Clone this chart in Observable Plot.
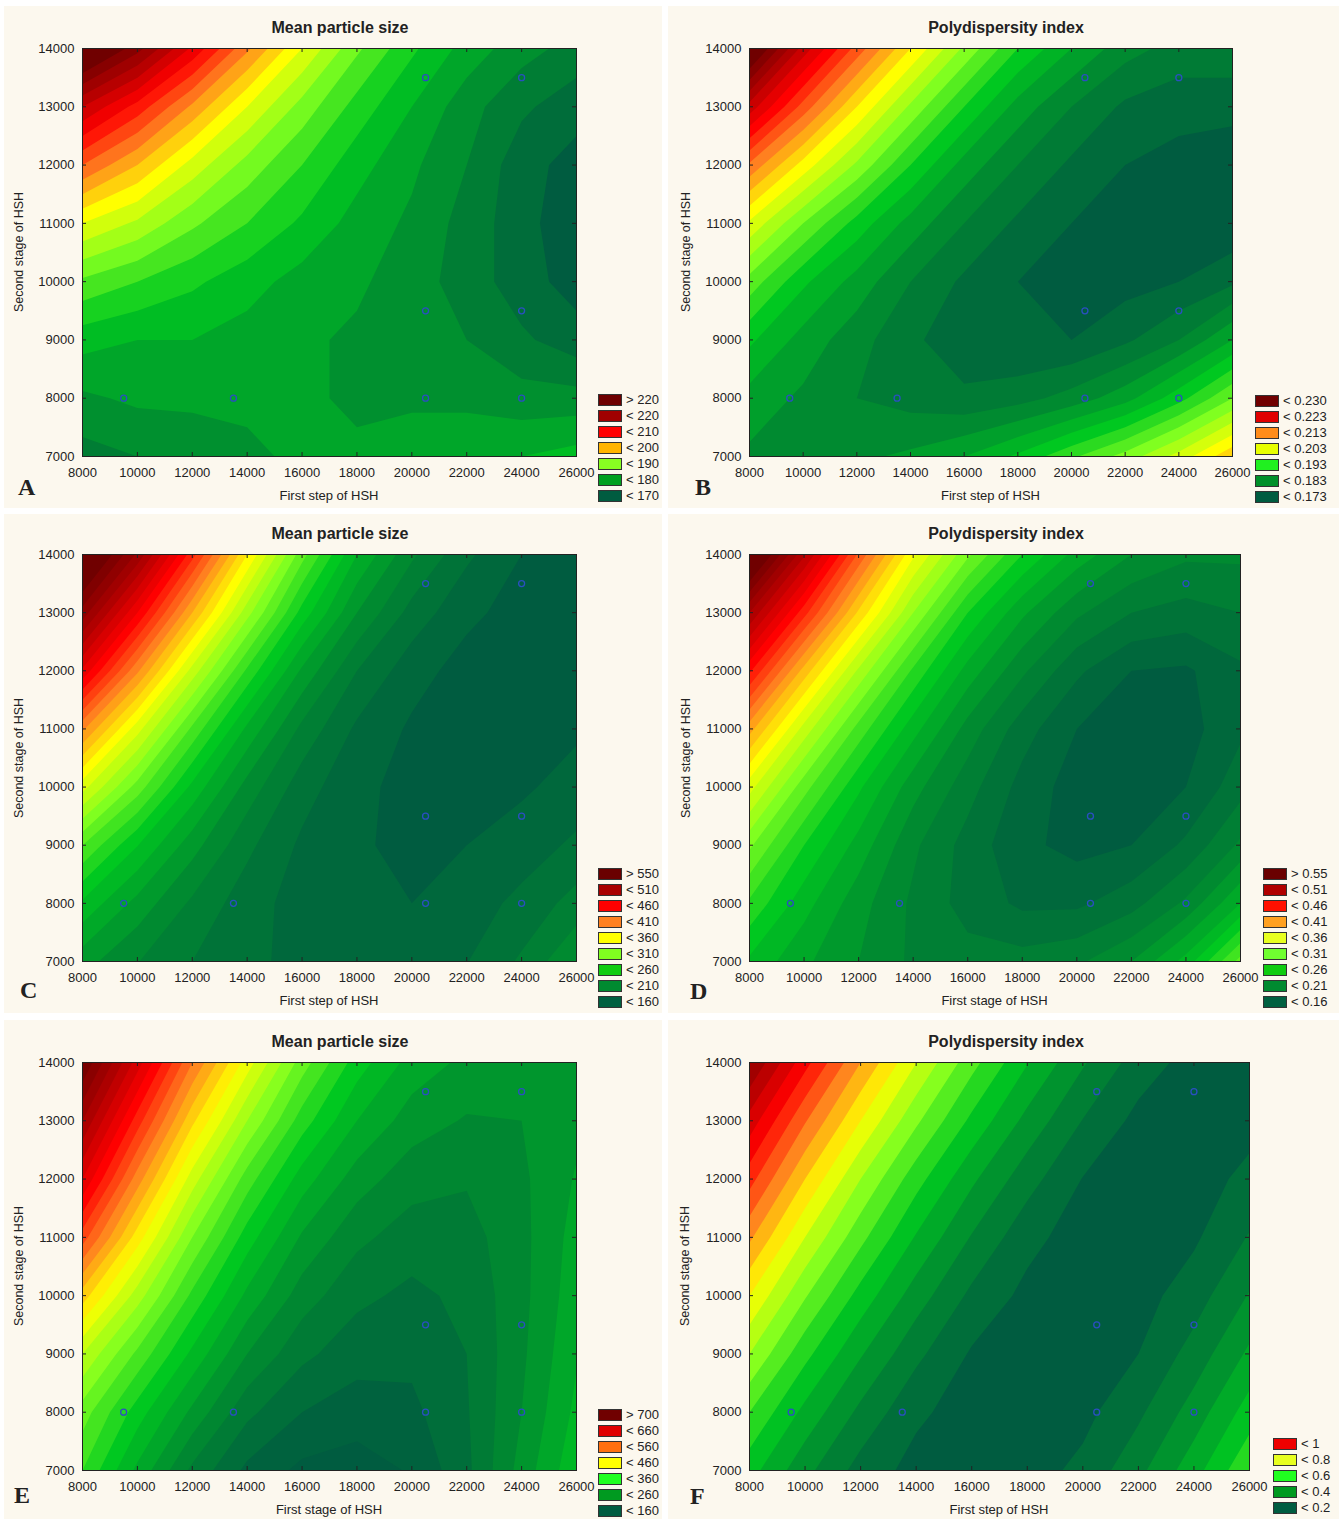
<!DOCTYPE html>
<html><head><meta charset="utf-8">
<script src="https://cdn.jsdelivr.net/npm/d3@7"></script>
<script src="https://cdn.jsdelivr.net/npm/@observablehq/plot@0.6"></script>
<style>
body{margin:0;background:#fff;}
#root{position:relative;width:1343px;height:1519px;overflow:hidden;font-family:"Liberation Sans",Arial,sans-serif;color:#222;}
.bg{position:absolute;background:#fcf8ee;}
.title{position:absolute;font-weight:bold;font-size:16px;transform:translate(-50%,-50%);white-space:nowrap;}
.xlab{position:absolute;font-size:13px;transform:translate(-50%,-50%);white-space:nowrap;}
.ylab{position:absolute;font-size:12.5px;transform:translate(-50%,-50%) rotate(-90deg);white-space:nowrap;}
.letter{position:absolute;font-family:"Liberation Serif","Times New Roman",serif;font-weight:bold;font-size:24px;line-height:1;}
.sw{position:absolute;width:22px;height:10px;border:1px solid #333;}
.lt{position:absolute;font-size:13px;line-height:12px;white-space:nowrap;}
svg{position:absolute;}
</style></head><body><div id="root"></div><script>
// ---------- data ----------
const xTicks = [8000, 10000, 12000, 14000, 16000, 18000, 20000, 22000, 24000, 26000];
const yTicks = [7000, 8000, 9000, 10000, 11000, 12000, 13000, 14000];
// grid of read values: columns x = 8000..26000 (step 2000), rows y = 14000 (top) .. 7000 (bottom)
const gridX = [8000, 10000, 12000, 14000, 16000, 18000, 20000, 22000, 24000, 26000];
const gridY = [14000, 13000, 12000, 11000, 10000, 9000, 8000, 7000];
const designX = [9500, 13500, 20500, 24000, 20500, 24000, 20500, 24000];
const designY = [8000, 8000, 8000, 8000, 9500, 9500, 13500, 13500];

const sizeA = [
  228, 221, 212, 203, 195, 188, 183, 179, 176, 174,
  215, 209, 202, 195, 189, 184, 180, 176, 173, 171,
  205, 200, 194, 189, 185, 181, 178, 175, 171, 169,
  195, 192, 188, 185, 182, 179, 177, 174, 171, 168,
  187, 185, 183, 181, 179, 178, 176, 174, 171, 169,
  181, 180, 180, 179, 178, 177, 176, 175, 173, 171,
  177, 178, 178, 178, 178, 177, 177, 177, 176, 176,
  174, 175, 176, 177, 178, 178, 179, 179, 180, 181
];
const pdiB = [
  0.235, 0.222, 0.212, 0.203, 0.195, 0.188, 0.183, 0.179, 0.177, 0.177,
  0.222, 0.212, 0.203, 0.195, 0.188, 0.182, 0.178, 0.175, 0.174, 0.174,
  0.210, 0.202, 0.195, 0.188, 0.182, 0.178, 0.175, 0.173, 0.172, 0.171,
  0.200, 0.193, 0.187, 0.182, 0.178, 0.175, 0.173, 0.172, 0.171, 0.171,
  0.192, 0.186, 0.182, 0.178, 0.175, 0.173, 0.172, 0.172, 0.173, 0.175,
  0.186, 0.182, 0.179, 0.176, 0.174, 0.173, 0.173, 0.175, 0.178, 0.183,
  0.182, 0.180, 0.178, 0.177, 0.176, 0.177, 0.179, 0.182, 0.187, 0.193,
  0.180, 0.179, 0.180, 0.181, 0.183, 0.186, 0.190, 0.194, 0.199, 0.205
];
const sizeC = [
  580, 520, 440, 360, 290, 235, 200, 175, 160, 155,
  530, 460, 385, 315, 255, 210, 180, 163, 155, 153,
  470, 400, 330, 270, 220, 185, 165, 155, 152, 155,
  400, 340, 282, 232, 194, 170, 158, 153, 153, 158,
  340, 292, 244, 205, 178, 163, 156, 155, 158, 165,
  285, 248, 215, 188, 170, 161, 158, 160, 166, 175,
  245, 218, 195, 178, 167, 160, 160, 166, 176, 190,
  215, 198, 185, 176, 168, 162, 163, 172, 187, 210
];
const pdiD = [
  0.58, 0.50, 0.42, 0.35, 0.30, 0.26, 0.23, 0.21, 0.20, 0.20,
  0.51, 0.44, 0.37, 0.31, 0.26, 0.225, 0.20, 0.185, 0.18, 0.185,
  0.45, 0.38, 0.32, 0.27, 0.23, 0.20, 0.175, 0.16, 0.158, 0.17,
  0.39, 0.33, 0.28, 0.24, 0.205, 0.178, 0.16, 0.152, 0.155, 0.17,
  0.34, 0.29, 0.25, 0.215, 0.19, 0.168, 0.154, 0.152, 0.16, 0.18,
  0.30, 0.26, 0.23, 0.20, 0.18, 0.163, 0.156, 0.16, 0.175, 0.20,
  0.27, 0.24, 0.215, 0.195, 0.18, 0.17, 0.17, 0.18, 0.20, 0.235,
  0.245, 0.225, 0.21, 0.195, 0.19, 0.19, 0.195, 0.21, 0.24, 0.29
];
const sizeE = [
  760, 650, 540, 450, 370, 310, 272, 255, 250, 255,
  700, 590, 485, 400, 330, 280, 250, 238, 240, 255,
  640, 530, 430, 350, 290, 250, 228, 222, 236, 262,
  570, 470, 380, 310, 257, 225, 210, 212, 234, 268,
  490, 410, 335, 275, 230, 205, 195, 205, 234, 272,
  420, 355, 295, 240, 205, 188, 185, 200, 236, 278,
  370, 310, 255, 205, 180, 170, 175, 198, 240, 285,
  340, 275, 215, 175, 155, 150, 162, 195, 248, 295
];
const pdiF = [
  1.154, 0.968, 0.800, 0.651, 0.518, 0.403, 0.306, 0.226, 0.180, 0.190,
  1.030, 0.855, 0.700, 0.560, 0.438, 0.334, 0.248, 0.185, 0.170, 0.185,
  0.920, 0.750, 0.600, 0.470, 0.360, 0.270, 0.198, 0.170, 0.180, 0.212,
  0.810, 0.650, 0.515, 0.395, 0.296, 0.216, 0.175, 0.170, 0.192, 0.254,
  0.700, 0.555, 0.430, 0.325, 0.238, 0.186, 0.165, 0.180, 0.226, 0.304,
  0.600, 0.465, 0.355, 0.262, 0.194, 0.170, 0.172, 0.200, 0.270, 0.360,
  0.500, 0.385, 0.287, 0.210, 0.176, 0.168, 0.185, 0.240, 0.322, 0.424,
  0.420, 0.315, 0.230, 0.182, 0.165, 0.178, 0.213, 0.286, 0.380, 0.494
];

const legendA = ["> 220", "< 220", "< 210", "< 200", "< 190", "< 180", "< 170"];
const legendColorsA = ["#6e0000", "#a00000", "#ff0000", "#ffb400", "#88ff22", "#00a020", "#005c40"];
const legendB = ["< 0.230", "< 0.223", "< 0.213", "< 0.203", "< 0.193", "< 0.183", "< 0.173"];
const legendColorsB = ["#700000", "#e00000", "#ff8c1a", "#e8ff00", "#20f020", "#00902a", "#005c40"];
const legendC = ["> 550", "< 510", "< 460", "< 410", "< 360", "< 310", "< 260", "< 210", "< 160"];
const legendColorsC = ["#6a0000", "#a80000", "#ff0000", "#ff8020", "#ffff00", "#80ff20", "#10cc10", "#008a30", "#006040"];
const legendD = ["> 0.55", "< 0.51", "< 0.46", "< 0.41", "< 0.36", "< 0.31", "< 0.26", "< 0.21", "< 0.16"];
const legendColorsD = ["#6a0000", "#b00000", "#ff1000", "#ffa020", "#e8ff20", "#70ff30", "#10cc10", "#008a30", "#006040"];
const legendE = ["> 700", "< 660", "< 560", "< 460", "< 360", "< 260", "< 160"];
const legendColorsE = ["#700000", "#e00000", "#ff7010", "#ffff00", "#20ff20", "#009a20", "#005c40"];
const legendF = ["< 1", "< 0.8", "< 0.6", "< 0.4", "< 0.2"];
const legendColorsF = ["#ee0000", "#e8ff20", "#20ff20", "#009a20", "#005c40"];

// colour ramp of the contour bands (low -> high)
const palette = ["#005c40", "#008a30", "#00c820", "#80ff20", "#ffff00", "#ff8020", "#ff0000", "#b00000", "#700000"];

// ---------- layout ----------
const panels = [
  {letter: "A", title: "Mean particle size", xLabel: "First step of HSH", values: sizeA, range: [167.5, 222.5], anchor: 170, step: 2.5,
   labels: legendA, colors: legendColorsA, frame: [82, 48, 576, 456], titleX: 340, titleY: 28, legend: [598, 394], letterXY: [18, 475], ylabX: 19},
  {letter: "B", title: "Polydispersity index", xLabel: "First step of HSH", values: pdiB, range: [0.1705, 0.2305], anchor: 0.173, step: 0.0025,
   labels: legendB, colors: legendColorsB, frame: [749, 48, 1232, 456], titleX: 1006, titleY: 28, legend: [1255, 395], letterXY: [695, 475], ylabX: 686},
  {letter: "C", title: "Mean particle size", xLabel: "First step of HSH", values: sizeC, range: [147.5, 547.5], anchor: 160, step: 12.5,
   labels: legendC, colors: legendColorsC, frame: [82, 554, 576, 961], titleX: 340, titleY: 534, legend: [598, 868], letterXY: [20, 978], ylabX: 19},
  {letter: "D", title: "Polydispersity index", xLabel: "First stage of HSH", values: pdiD, range: [0.1475, 0.5475], anchor: 0.16, step: 0.0125,
   labels: legendD, colors: legendColorsD, frame: [749, 554, 1240, 961], titleX: 1006, titleY: 534, legend: [1263, 868], letterXY: [690, 979], ylabX: 686},
  {letter: "E", title: "Mean particle size", xLabel: "First stage of HSH", values: sizeE, range: [150, 750], anchor: 160, step: 20,
   labels: legendE, colors: legendColorsE, frame: [82, 1062, 576, 1470], titleX: 340, titleY: 1042, legend: [598, 1409], letterXY: [14, 1483], ylabX: 19},
  {letter: "F", title: "Polydispersity index", xLabel: "First step of HSH", values: pdiF, range: [0.15, 1.2], anchor: 0.2, step: 0.05,
   labels: legendF, colors: legendColorsF, frame: [749, 1062, 1249, 1470], titleX: 1006, titleY: 1042, legend: [1273, 1438], letterXY: [690, 1484], ylabX: 685}
];
const backgrounds = [[4, 6, 662, 508], [668, 6, 1339, 508], [4, 514, 662, 1013], [668, 514, 1339, 1013], [4, 1020, 662, 1519], [668, 1020, 1339, 1519]];

const root = document.getElementById("root");
function el(cls, text, left, top, extra) {
  const d = document.createElement("div");
  d.className = cls; if (text != null) d.textContent = text;
  d.style.left = left + "px"; d.style.top = top + "px";
  if (extra) Object.assign(d.style, extra);
  root.appendChild(d); return d;
}
backgrounds.forEach(([x0, y0, x1, y1]) => el("bg", null, x0, y0, {width: (x1 - x0) + "px", height: (y1 - y0) + "px"}));

const designPts = designX.map((x, i) => ({x, y: designY[i]}));
const dx = gridX[1] - gridX[0], dy = gridY[0] - gridY[1];

panels.forEach(p => {
  const [fx0, fy0, fx1, fy1] = p.frame;
  const fw = fx1 - fx0, fh = fy1 - fy0;
  const ml = 70, mr = 6, mt = 6, mb = 30;
  const stops = palette.map((_, i) => p.range[0] + (p.range[1] - p.range[0]) * i / (palette.length - 1));
  const vmin = d3.min(p.values), vmax = d3.max(p.values);
  const k0 = Math.floor((vmin - p.anchor) / p.step) - 1, k1 = Math.ceil((vmax - p.anchor) / p.step) + 1;
  const thresholds = d3.range(k0, k1 + 1).map(k => +(p.anchor + k * p.step).toFixed(6));
  const chart = Plot.plot({
    width: fw + ml + mr, height: fh + mt + mb,
    marginLeft: ml, marginRight: mr, marginTop: mt, marginBottom: mb,
    style: {background: "transparent", fontFamily: "'Liberation Sans', Arial, sans-serif", fontSize: "13px", color: "#222", overflow: "visible"},
    x: {domain: [xTicks[0], xTicks[xTicks.length - 1]]},
    y: {domain: [yTicks[0], yTicks[yTicks.length - 1]]},
    color: {type: "linear", domain: stops, range: palette, clamp: true, interpolate: "rgb"},
    marks: [
      Plot.contour(p.values, {
        width: gridX.length, height: gridY.length,
        x1: gridX[0] - dx / 2, x2: gridX[gridX.length - 1] + dx / 2,
        y1: gridY[0] + dy / 2, y2: gridY[gridY.length - 1] - dy / 2,
        fill: Plot.identity, thresholds, clip: true, stroke: "none"
      }),
      Plot.tickX(xTicks, {x: d => d, insetTop: fh - 4, stroke: "#222"}),
      Plot.tickX(xTicks, {x: d => d, insetBottom: fh - 4, stroke: "#222"}),
      Plot.tickY(yTicks, {y: d => d, insetRight: fw - 4, stroke: "#222"}),
      Plot.tickY(yTicks, {y: d => d, insetLeft: fw - 4, stroke: "#222"}),
      Plot.dot(designPts, {x: "x", y: "y", r: 3, stroke: "#2a4fc0", strokeWidth: 1.3, fill: "none"}),
      Plot.frame({stroke: "#222"}),
      Plot.axisX({ticks: xTicks, tickFormat: d => String(d), tickSize: 0, tickPadding: 11, label: null}),
      Plot.axisY({ticks: yTicks, tickFormat: d => String(d), tickSize: 0, tickPadding: 8, label: null})
    ]
  });
  chart.style.left = (fx0 - ml) + "px";
  chart.style.top = (fy0 - mt) + "px";
  root.appendChild(chart);

  el("title", p.title, p.titleX, p.titleY);
  el("xlab", p.xLabel, (fx0 + fx1) / 2, fy1 + 39);
  el("ylab", "Second stage of HSH", p.ylabX, (fy0 + fy1) / 2);
  el("letter", p.letter, p.letterXY[0], p.letterXY[1]);
  p.labels.forEach((lab, i) => {
    const y = p.legend[1] + i * 16;
    el("sw", null, p.legend[0], y, {background: p.colors[i]});
    el("lt", lab, p.legend[0] + 28, y);
  });
});
</script></body></html>
